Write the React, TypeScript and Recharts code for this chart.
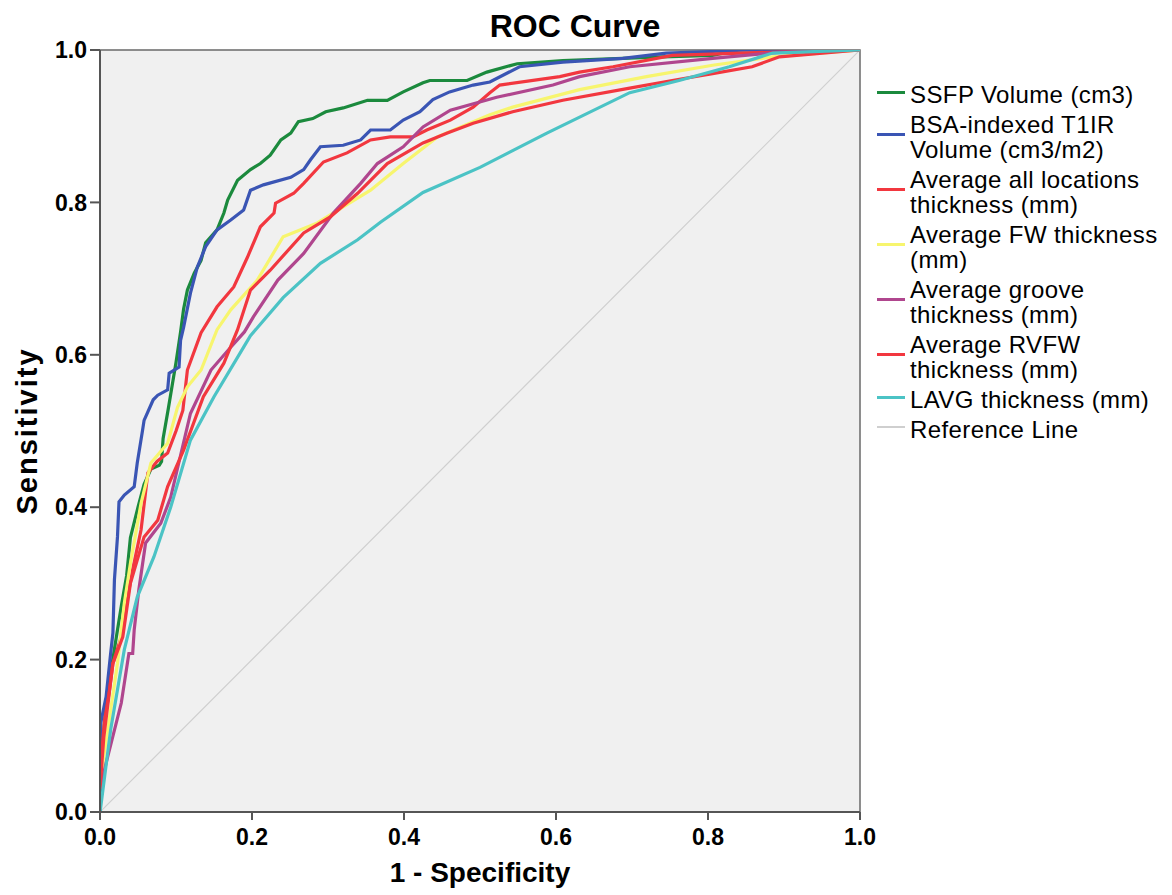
import React from 'react';
import { LineChart, Line, XAxis, YAxis, CartesianGrid, ReferenceArea, Label } from 'recharts';

// points as [1 - specificity, sensitivity]
const ssfp: [number, number][] = [
  [0, 0], [0.002, 0.07], [0.006, 0.12], [0.012, 0.17], [0.02, 0.22], [0.028, 0.27], [0.035, 0.31],
  [0.04, 0.36], [0.05, 0.4], [0.058, 0.43], [0.067, 0.45], [0.078, 0.455], [0.081, 0.46], [0.083, 0.49],
  [0.09, 0.53], [0.095, 0.56], [0.1, 0.59], [0.106, 0.63], [0.11, 0.66], [0.115, 0.685], [0.124, 0.707],
  [0.133, 0.724], [0.139, 0.747], [0.154, 0.764], [0.163, 0.786], [0.168, 0.803], [0.181, 0.829],
  [0.198, 0.843], [0.211, 0.851], [0.224, 0.862], [0.238, 0.882], [0.251, 0.891], [0.261, 0.906],
  [0.28, 0.91], [0.297, 0.919], [0.32, 0.924], [0.352, 0.934], [0.378, 0.934], [0.399, 0.945],
  [0.425, 0.957], [0.434, 0.96], [0.483, 0.96], [0.509, 0.971], [0.549, 0.982], [0.609, 0.986],
  [0.74, 0.991], [0.806, 0.993], [0.84, 1], [1, 1],
];

const bsaT1ir: [number, number][] = [
  [0, 0], [0, 0.08], [0.001, 0.117], [0.008, 0.151], [0.014, 0.208], [0.017, 0.235], [0.019, 0.305],
  [0.023, 0.361], [0.025, 0.407], [0.032, 0.416], [0.045, 0.427], [0.049, 0.458], [0.056, 0.501],
  [0.058, 0.514], [0.07, 0.541], [0.076, 0.547], [0.089, 0.554], [0.091, 0.576], [0.104, 0.584],
  [0.106, 0.619], [0.11, 0.636], [0.119, 0.681], [0.128, 0.715], [0.139, 0.742], [0.154, 0.764],
  [0.172, 0.777], [0.189, 0.79], [0.198, 0.816], [0.215, 0.823], [0.251, 0.833], [0.268, 0.843],
  [0.277, 0.856], [0.29, 0.873], [0.32, 0.875], [0.343, 0.882], [0.356, 0.895], [0.382, 0.895],
  [0.399, 0.908], [0.421, 0.919], [0.438, 0.935], [0.46, 0.945], [0.491, 0.954], [0.513, 0.958],
  [0.552, 0.978], [0.609, 0.984], [0.688, 0.989], [0.745, 0.996], [0.806, 0.998], [0.85, 1], [1, 1],
];

const avgAll: [number, number][] = [
  [0, 0.04], [0.001, 0.064], [0.006, 0.12], [0.012, 0.156], [0.017, 0.195], [0.028, 0.23], [0.036, 0.28],
  [0.043, 0.318], [0.054, 0.37], [0.063, 0.445], [0.075, 0.46], [0.089, 0.471], [0.1, 0.5], [0.109, 0.527],
  [0.115, 0.58], [0.133, 0.629], [0.154, 0.663], [0.176, 0.689], [0.194, 0.728], [0.211, 0.768],
  [0.229, 0.786], [0.231, 0.799], [0.255, 0.812], [0.268, 0.825], [0.294, 0.853], [0.325, 0.865],
  [0.356, 0.882], [0.382, 0.886], [0.412, 0.886], [0.43, 0.895], [0.461, 0.908], [0.491, 0.925],
  [0.513, 0.944], [0.526, 0.954], [0.605, 0.965], [0.631, 0.971], [0.675, 0.978], [0.753, 0.993],
  [0.881, 0.997], [1, 1],
];

const avgFw: [number, number][] = [
  [0, 0.04], [0.014, 0.134], [0.023, 0.195], [0.032, 0.274], [0.04, 0.326], [0.054, 0.405], [0.067, 0.458],
  [0.089, 0.484], [0.102, 0.531], [0.115, 0.558], [0.133, 0.58], [0.154, 0.633], [0.172, 0.659],
  [0.207, 0.698], [0.241, 0.755], [0.286, 0.773], [0.32, 0.794], [0.356, 0.816], [0.399, 0.851],
  [0.444, 0.886], [0.513, 0.915], [0.543, 0.925], [0.631, 0.948], [0.719, 0.965], [0.806, 0.98],
  [0.885, 0.991], [1, 1],
];

const avgGroove: [number, number][] = [
  [0, 0.03], [0.008, 0.064], [0.028, 0.143], [0.038, 0.208], [0.043, 0.208], [0.045, 0.239], [0.051, 0.291],
  [0.06, 0.353], [0.08, 0.379], [0.093, 0.413], [0.119, 0.523], [0.146, 0.58], [0.172, 0.61], [0.19, 0.63],
  [0.202, 0.65], [0.234, 0.698], [0.268, 0.733], [0.307, 0.786], [0.343, 0.825], [0.365, 0.851],
  [0.399, 0.873], [0.425, 0.899], [0.461, 0.921], [0.522, 0.938], [0.596, 0.954], [0.631, 0.965],
  [0.697, 0.978], [0.806, 0.989], [0.894, 0.997], [1, 1],
];

const avgRvfw: [number, number][] = [
  [0, 0.03], [0.005, 0.098], [0.017, 0.195], [0.03, 0.23], [0.04, 0.3], [0.058, 0.361], [0.076, 0.383],
  [0.089, 0.427], [0.11, 0.475], [0.136, 0.545], [0.163, 0.589], [0.181, 0.633], [0.198, 0.685],
  [0.224, 0.711], [0.268, 0.76], [0.303, 0.781], [0.339, 0.812], [0.378, 0.851], [0.425, 0.878],
  [0.457, 0.891], [0.491, 0.904], [0.543, 0.919], [0.609, 0.934], [0.697, 0.95], [0.753, 0.96],
  [0.806, 0.969], [0.858, 0.978], [0.894, 0.991], [1, 1],
];

const lavg: [number, number][] = [
  [0, 0], [0.001, 0.007], [0.014, 0.108], [0.032, 0.213], [0.049, 0.282], [0.071, 0.335], [0.093, 0.4],
  [0.119, 0.488], [0.15, 0.545], [0.189, 0.61], [0.198, 0.625], [0.241, 0.675], [0.29, 0.72],
  [0.339, 0.751], [0.369, 0.774], [0.425, 0.813], [0.5, 0.846], [0.588, 0.891], [0.697, 0.944],
  [0.762, 0.96], [0.828, 0.978], [0.885, 0.996], [1, 1],
];

const refLine: [number, number][] = [[0, 0], [1, 1]];

const ticks = [0, 0.2, 0.4, 0.6, 0.8, 1];

const series = [
  { name: ['SSFP Volume (cm3)'], pts: ssfp, color: '#1b8a3d' },
  { name: ['BSA-indexed T1IR', 'Volume (cm3/m2)'], pts: bsaT1ir, color: '#3a55b4' },
  { name: ['Average all locations', 'thickness (mm)'], pts: avgAll, color: '#f2373f' },
  { name: ['Average FW thickness', '(mm)'], pts: avgFw, color: '#f7f56e' },
  { name: ['Average groove', 'thickness (mm)'], pts: avgGroove, color: '#b0468e' },
  { name: ['Average RVFW', 'thickness (mm)'], pts: avgRvfw, color: '#f2373f' },
  { name: ['LAVG thickness (mm)'], pts: lavg, color: '#4bc3c5' },
];

const toRows = (pts: [number, number][]) => pts.map(([x, y]) => ({ x, y }));

const font = '"Liberation Sans", Arial, sans-serif';
const tickStyle = { fontSize: 23, fontWeight: 'bold', fill: '#000', fontFamily: font };

const LegendBox = () => {
  const items = [...series.map(s => ({ name: s.name, color: s.color, h: 3 })), { name: ['Reference Line'], color: '#cfcfcf', h: 2 }];
  return (
    <div style={{ position: 'absolute', left: 877, top: 82, fontFamily: font, fontSize: 24, lineHeight: '25px', color: '#000', letterSpacing: 0.4 }}>
      {items.map((it, i) => (
        <div key={i} style={{ display: 'flex', alignItems: 'center', marginBottom: 5 }}>
          <div style={{ width: 28, height: it.h, background: it.color, marginRight: 5, marginTop: -5 }} />
          <div>
            {it.name.map((l, j) => (
              <div key={j} style={{ whiteSpace: 'nowrap' }}>{l}</div>
            ))}
          </div>
        </div>
      ))}
    </div>
  );
};

export default function App() {
  return (
    <div style={{ position: 'absolute', left: 0, top: 0, width: 1172, height: 895, background: '#fff' }}>
      <div style={{ position: 'absolute', left: 0, width: 1150, top: 8, textAlign: 'center', fontFamily: font, fontWeight: 'bold', fontSize: 32 }}>
        ROC Curve
      </div>
      <LineChart width={1172} height={895} data={toRows(refLine)} margin={{ top: 50, right: 312, bottom: 0, left: 0 }}>
        <CartesianGrid fill="#f0f0f0" horizontal={false} vertical={false} />
        <ReferenceArea x1={0} x2={1} y1={0} y2={1} fill="none" stroke="#6a6a6a" strokeWidth={1.5} />
        <XAxis
          dataKey="x"
          type="number"
          domain={[0, 1]}
          ticks={ticks}
          tickFormatter={(v: number) => v.toFixed(1)}
          height={83}
          tickSize={8}
          tickMargin={9}
          tick={tickStyle}
          stroke="#555"
          strokeWidth={2}
          allowDataOverflow
        >
          <Label value="1 - Specificity" position="insideBottom" offset={13} style={{ fontSize: 28, fontWeight: 'bold', fill: '#000', fontFamily: font }} />
        </XAxis>
        <YAxis
          type="number"
          domain={[0, 1]}
          ticks={ticks}
          tickFormatter={(v: number) => v.toFixed(1)}
          width={100}
          tickSize={10}
          tickMargin={3}
          tick={tickStyle}
          stroke="#555"
          strokeWidth={2}
          allowDataOverflow
        >
          <Label value="Sensitivity" angle={-90} position="insideLeft" offset={27} style={{ fontSize: 29, fontWeight: 'bold', fill: '#000', fontFamily: font, letterSpacing: 2, textAnchor: 'middle' }} />
        </YAxis>
        <Line data={toRows(refLine)} dataKey="y" stroke="#cfcfcf" strokeWidth={1.2} dot={false} isAnimationActive={false} />
        {series.map((s, i) => (
          <Line
            key={i}
            data={toRows(s.pts)}
            dataKey="y"
            name={s.name.join(' ')}
            stroke={s.color}
            strokeWidth={3.2}
            dot={false}
            isAnimationActive={false}
          />
        ))}
      </LineChart>
      <LegendBox />
    </div>
  );
}
